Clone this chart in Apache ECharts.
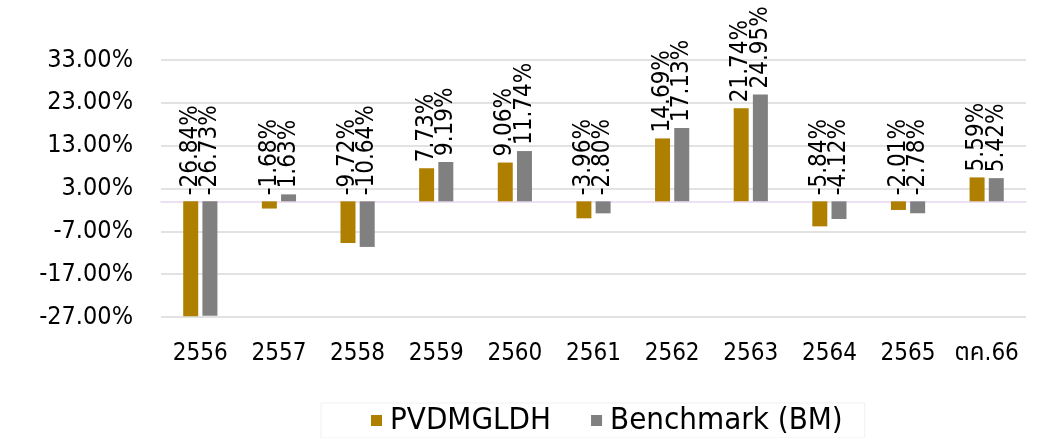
<!DOCTYPE html>
<html>
<head>
<meta charset="utf-8">
<title>PVDMGLDH vs Benchmark</title>
<script src="https://cdn.jsdelivr.net/npm/echarts@6/dist/echarts.min.js"></script>
<style>
  html, body { margin: 0; padding: 0; background: #fff; }
  #chart { width: 1063px; height: 438px; }
</style>
</head>
<body>
<div id="chart"></div>
<script>
  // ปี (พ.ศ.)
  const years = ['2556', '2557', '2558', '2559', '2560', '2561', '2562', '2563', '2564', '2565', 'ตค.66']
  // ผลตอบแทนกองทุน (%)
  const fundReturns = [-26.84, -1.68, -9.72, 7.73, 9.06, -3.96, 14.69, 21.74, -5.84, -2.01, 5.59]
  // ผลตอบแทนดัชนีชี้วัด (%)
  const benchReturns = [-26.73, 1.63, -10.64, 9.19, 11.74, -2.80, 17.13, 24.95, -4.12, -2.78, 5.42]
  const seriesNames = ['PVDMGLDH', 'Benchmark (BM)']
  const axisMin = -27
  const axisMax = 33
  const axisStep = 10

  const font = '"DejaVu Sans Condensed", "DejaVu Sans", "Noto Sans Thai", sans-serif'

  let chart = echarts.init(document.getElementById('chart'))

  const barLabel = {
    show: true,
    position: 'top',
    rotate: 90,
    align: 'left',
    verticalAlign: 'middle',
    distance: 6,
    color: '#000',
    fontFamily: font,
    fontSize: 24,
    formatter: p => p.value.toFixed(2) + '%'
  }

  chart.setOption({
    animation: false,
    textStyle: { fontFamily: font },
    grid: { left: 161, right: 37, top: 60, bottom: 121 },
    legend: {
      data: seriesNames,
      bottom: 0,
      left: 321,
      icon: 'rect',
      itemWidth: 11,
      itemHeight: 11,
      itemGap: 40,
      padding: [2, 22, 2, 50],
      borderColor: '#f0f0f0',
      borderWidth: 1,
      textStyle: { fontSize: 31, color: '#000', fontFamily: font, padding: [0, 0, 0, 3] }
    },
    xAxis: [
      {
        type: 'category',
        data: years,
        position: 'bottom',
        axisLine: { show: false, onZero: false },
        axisTick: { show: false },
        axisLabel: { color: '#000', fontSize: 24, margin: 25, fontFamily: font, interval: 0 }
      },
      {
        type: 'category',
        data: years,
        axisLine: { show: true, onZero: true, lineStyle: { color: '#e8d6f2', width: 1.5 } },
        axisTick: { show: false },
        axisLabel: { show: false }
      }
    ],
    yAxis: {
      type: 'value',
      min: axisMin,
      max: axisMax,
      interval: axisStep,
      axisLine: { show: false },
      axisTick: { show: false },
      splitLine: { lineStyle: { color: '#d9d9d9', width: 1.5 } },
      axisLabel: {
        color: '#000',
        fontSize: 25,
        margin: 28,
        fontFamily: font,
        formatter: v => v.toFixed(2) + '%'
      }
    },
    series: [
      {
        name: seriesNames[0],
        type: 'bar',
        data: fundReturns,
        barWidth: 15,
        barGap: '28%',
        itemStyle: { color: '#af7f00' },
        label: barLabel
      },
      {
        name: seriesNames[1],
        type: 'bar',
        data: benchReturns,
        barWidth: 15,
        barGap: '28%',
        itemStyle: { color: '#808080' },
        label: barLabel
      }
    ]
  })
</script>
</body>
</html>
